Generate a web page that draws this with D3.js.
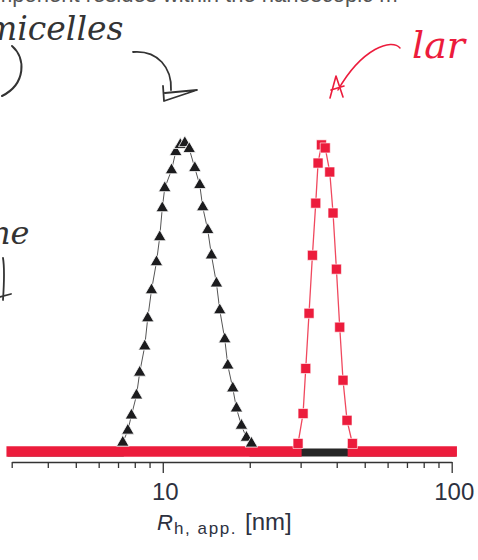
<!DOCTYPE html>
<html>
<head>
<meta charset="utf-8">
<script src="https://cdn.jsdelivr.net/npm/d3@7"></script>
<style>
  html, body { margin: 0; padding: 0; background: #fff; }
  svg { display: block; }
</style>
</head>
<body>
<svg id="chart" width="478" height="560"></svg>
<script>
// black triangles (micelles), hydrodynamic radius [nm] vs relative intensity
var micelleR = [7.27, 7.57, 7.79, 8.11, 8.32, 8.66, 8.87, 9.14, 9.51, 9.76, 9.96, 10.16, 10.72,
    11.09, 11.50, 11.92, 12.35, 12.91, 13.43, 13.75, 14.31, 14.74, 15.34, 15.75, 16.39,
    16.79, 17.47, 17.99, 18.72, 19.48, 20.27];
var micelleI = [2.9, 6.8, 11.7, 18.2, 25.6, 34.1, 43.2, 52.3, 61.4, 69.5, 78.9, 85.4, 91.2,
    97.1, 99.4, 100, 98.1, 91.9, 86.4, 79.2, 71.8, 63.6, 54.5, 45.8, 36.4,
    27.9, 20.5, 14.0, 8.4, 4.5, 2.6];

// red squares (larger objects)
var largeR = [29.39, 30.59, 31.25, 32.08, 32.96, 33.84, 34.47, 35.41, 36.50, 37.84,
    38.84, 39.90, 40.97, 42.06, 43.42, 45.33];
var largeI = [2.6, 12.3, 26.9, 44.8, 63.6, 80.5, 93.5, 99.4, 98.4, 90.6,
    77.3, 59.1, 40.3, 23.1, 10.1, 2.6];

// ranges where each distribution sits at zero
var micelleZero = [[3, 7.1], [20.6, 100]];
var largeZero = [[3, 29.0], [45.5, 100]];

var xTicks = [3, 4, 5, 6, 7, 8, 9, 10, 20, 30, 40, 50, 60, 70, 80, 90, 100];
var xLabels = [10, 100];

var svg = d3.select("#chart");
var red = "#ec1c3c";
var dark = "#1c1c1e";
var ink = "#2d3140";

var x = d3.scaleLog().domain([3, 100]).range([11.7, 451.7]);
var y = d3.scaleLinear().domain([0, 100]).range([451.5, 143]);

// --- scanned page text and handwritten notes
svg.append("text")
    .attr("x", -6).attr("y", 2)
    .attr("font-family", "Liberation Sans, Arial, sans-serif")
    .attr("font-size", 22)
    .attr("fill", "#555")
    .text("mponent resides within the nanoscopic m");

var hand = svg.append("g")
    .attr("fill", "none")
    .attr("stroke-linecap", "round")
    .attr("stroke-linejoin", "round");

hand.append("text")
    .attr("x", -14).attr("y", 40)
    .attr("font-family", "DejaVu Serif, serif")
    .attr("font-style", "italic")
    .attr("font-size", 33)
    .attr("fill", "#333")
    .attr("stroke", "none")
    .text("micelles");

hand.append("path")
    .attr("d", "M12,46 C26,58 26,84 2,96")
    .attr("stroke", "#333").attr("stroke-width", 2);
hand.append("path")
    .attr("d", "M133,52 C158,50 172,68 171,90")
    .attr("stroke", "#333").attr("stroke-width", 1.8);
hand.append("path")
    .attr("d", "M163,86 L164,101 L197,90 L165,93")
    .attr("stroke", "#333").attr("stroke-width", 1.8);

hand.append("path")
    .attr("d", "M400,48 C392,38 362,48 338,90")
    .attr("stroke", red).attr("stroke-width", 1.5);
hand.append("path")
    .attr("d", "M330,98 L336,76 L343,97 M331,90 L344,86")
    .attr("stroke", red).attr("stroke-width", 1.6);
hand.append("text")
    .attr("x", 412).attr("y", 58)
    .attr("font-family", "DejaVu Serif, serif")
    .attr("font-style", "italic")
    .attr("font-size", 38)
    .attr("fill", red)
    .attr("stroke", "none")
    .text("lar");

hand.append("text")
    .attr("x", -10).attr("y", 244)
    .attr("font-family", "DejaVu Serif, serif")
    .attr("font-style", "italic")
    .attr("font-size", 32)
    .attr("fill", "#333")
    .attr("stroke", "none")
    .text("ne");
hand.append("path")
    .attr("d", "M3,258 C5,270 4,285 3,300 M0,297 L11,294")
    .attr("stroke", "#333").attr("stroke-width", 1.8);

// --- zero baselines
var plot = svg.append("g");

plot.selectAll("line.zero-micelle")
    .data(micelleZero)
    .enter().append("line")
    .attr("class", "zero-micelle")
    .attr("x1", function(d) { return x(d[0]); })
    .attr("x2", function(d) { return x(d[1]); })
    .attr("y1", y(0) + 1).attr("y2", y(0) + 1)
    .attr("stroke", "#262626")
    .attr("stroke-width", 8)
    .attr("stroke-linecap", "square");

plot.selectAll("line.zero-large")
    .data(largeZero)
    .enter().append("line")
    .attr("class", "zero-large")
    .attr("x1", function(d) { return x(d[0]); })
    .attr("x2", function(d) { return x(d[1]); })
    .attr("y1", y(0)).attr("y2", y(0))
    .attr("stroke", red)
    .attr("stroke-width", 10.5)
    .attr("stroke-linecap", "square");

// --- micelle series
var micelle = micelleR.map(function(r, i) { return { r: r, v: micelleI[i] }; });
var large = largeR.map(function(r, i) { return { r: r, v: largeI[i] }; });

var line = d3.line()
    .x(function(d) { return x(d.r); })
    .y(function(d) { return y(d.v); });

plot.append("path")
    .datum(micelle)
    .attr("d", line)
    .attr("fill", "none")
    .attr("stroke", "#555")
    .attr("stroke-width", 1);

plot.selectAll("path.tri")
    .data(micelle)
    .enter().append("path")
    .attr("class", "tri")
    .attr("d", d3.symbol(d3.symbolTriangle, 68))
    .attr("transform", function(d) { return "translate(" + x(d.r) + "," + y(d.v) + ")"; })
    .attr("fill", dark)
    .attr("stroke", "#fff")
    .attr("stroke-width", 0.8);

// --- large objects series
plot.append("path")
    .datum(large)
    .attr("d", line)
    .attr("fill", "none")
    .attr("stroke", "#f0485e")
    .attr("stroke-width", 1.3);

plot.selectAll("path.sq")
    .data(large)
    .enter().append("path")
    .attr("class", "sq")
    .attr("d", d3.symbol(d3.symbolSquare, 100))
    .attr("transform", function(d) { return "translate(" + x(d.r) + "," + y(d.v) + ")"; })
    .attr("fill", red)
    .attr("stroke", "#fff")
    .attr("stroke-width", 0.6);

// --- x axis
var axis = svg.append("g")
    .attr("transform", "translate(0,462)")
    .call(d3.axisBottom(x)
        .tickValues(xTicks)
        .tickSize(6)
        .tickSizeOuter(0)
        .tickFormat(function(d) { return xLabels.indexOf(d) >= 0 ? d : ""; }));

axis.select(".domain").attr("stroke", "#333").attr("stroke-width", 1.6);
axis.selectAll(".tick line")
    .attr("stroke", "#333")
    .attr("stroke-width", 1.3)
    .attr("y2", function(d) { return xLabels.indexOf(d) >= 0 ? 11 : 6; });
axis.selectAll(".tick text")
    .attr("y", 38).attr("dy", 0)
    .attr("dx", 2)
    .attr("font-family", "Liberation Sans, Arial, sans-serif")
    .attr("font-size", 24)
    .attr("fill", ink);

var label = svg.append("text")
    .attr("x", 157).attr("y", 530)
    .attr("font-family", "Liberation Sans, Arial, sans-serif")
    .attr("fill", ink);
label.append("tspan")
    .attr("font-style", "italic")
    .attr("font-size", 22)
    .text("R");
label.append("tspan")
    .attr("font-size", 17)
    .attr("dy", 4)
    .attr("dx", 1)
    .attr("letter-spacing", 1.6)
    .text("h, app.");
label.append("tspan")
    .attr("font-size", 24)
    .attr("dy", -4)
    .attr("dx", 8)
    .text("[nm]");
</script>
</body>
</html>
